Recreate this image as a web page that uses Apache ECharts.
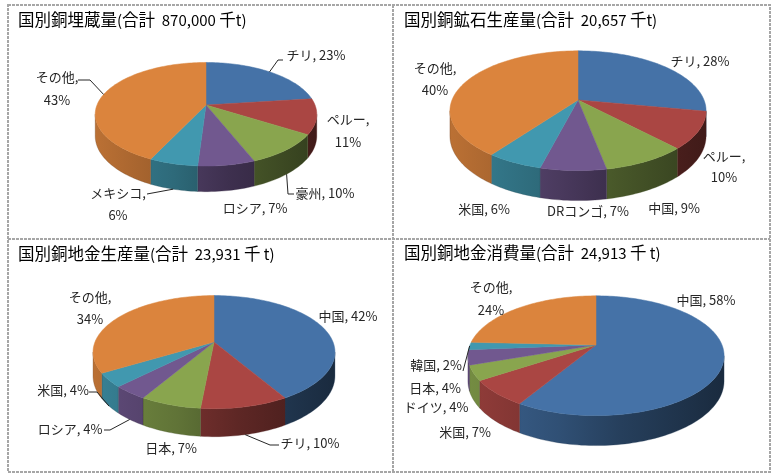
<!DOCTYPE html>
<html>
<head>
<meta charset="utf-8">
<script src="https://cdn.jsdelivr.net/npm/echarts@6/dist/echarts.min.js"></script>
<style>
html,body{margin:0;padding:0;background:#fff;}
#main{width:782px;height:475px;}
</style>
</head>
<body>
<div id="main"></div>
<script>
// data (percent shares)
var titles = [
	'国別銅埋蔵量(合計  870,000 千t)',
	'国別銅鉱石生産量(合計  20,657 千t)',
	'国別銅地金生産量(合計  23,931 千 t)',
	'国別銅地金消費量(合計  24,913 千 t)'
];
var reserveNames = ['チリ', 'ペルー', '豪州', 'ロシア', 'メキシコ', 'その他'];
var reserveValues = [23, 11, 10, 7, 6, 43];
var mineNames = ['チリ', 'ペルー', '中国', 'DRコンゴ', '米国', 'その他'];
var mineValues = [28, 10, 9, 7, 6, 40];
var refinedNames = ['中国', 'チリ', '日本', 'ロシア', '米国', 'その他'];
var refinedValues = [42, 10, 7, 4, 4, 34];
var consumeNames = ['中国', '米国', 'ドイツ', '日本', '韓国', 'その他'];
var consumeValues = [58, 7, 4, 4, 2, 24];

var colors = ['#4572A7', '#AA4643', '#89A54E', '#71588F', '#4198AF', '#DB843D'];
var FONT = '"Noto Sans CJK JP", "Noto Sans", sans-serif';

// pie placement and label placement per panel
var layouts = [
	{cx: 206, cy: 105, r: 109, h: 21, tx: 18, ty: 20, labels: [
		{x: 316, y: 55, line: [[283, 60], [278, 60]]},
		{x: 348, y: 131, wrap: true, lh: 23},
		{x: 325, y: 193, line: [[294, 194], [288, 194]]},
		{x: 255, y: 208},
		{x: 118, y: 204, wrap: true, lh: 22, line: [[147, 194]]},
		{x: 57, y: 88.5, wrap: true, lh: 23, line: [[78, 80], [90, 80]]}
	]},
	{cx: 578, cy: 100, r: 126, h: 24.6, tx: 404, ty: 20, labels: [
		{x: 700, y: 61},
		{x: 724, y: 167, wrap: true, lh: 21},
		{x: 674, y: 208},
		{x: 588, y: 211},
		{x: 484, y: 209},
		{x: 435, y: 79, wrap: true, lh: 22}
	]},
	{cx: 214, cy: 342, r: 119, h: 23, tx: 18, ty: 254, labels: [
		{x: 348, y: 316},
		{x: 310, y: 443, line: [[279, 445], [270, 445]]},
		{x: 171, y: 448},
		{x: 70, y: 429, line: [[104, 430], [110, 430]]},
		{x: 63, y: 390, line: [[89, 392], [97, 392]]},
		{x: 90, y: 308, wrap: true, lh: 22}
	]},
	{cx: 596, cy: 345, r: 126, h: 24.6, tx: 404, ty: 253, labels: [
		{x: 706, y: 300},
		{x: 465, y: 432},
		{x: 436, y: 407},
		{x: 435, y: 388},
		{x: 436, y: 365, line: [[463, 371]]},
		{x: 491, y: 298.5, wrap: true, lh: 23}
	]}
];

var P = 0.179, A = 0.46; // perspective strength, tilt
var WALL0 = Math.acos(-P), WALL1 = 2 * Math.PI - Math.acos(-P);

function proj(L, t, drop) {
	var u = Math.sin(t), v = -Math.cos(t);
	var s = 1 / (1 - P * v);
	return [L.cx + L.r * u * s, L.cy + (L.r * A * v + drop) * s];
}
function shade(hex, f) {
	var n = parseInt(hex.slice(1), 16);
	var r = Math.round(((n >> 16) & 255) * f), g = Math.round(((n >> 8) & 255) * f), b = Math.round((n & 255) * f);
	return 'rgb(' + r + ',' + g + ',' + b + ')';
}
// wide glyphs a bit larger than the latin part, like the original title font
function richTitle(s) {
	return s.replace(/([\u3000-\u9fff\uff00-\uffef]+)|([^\u3000-\u9fff\uff00-\uffef]+)/g, function(m, w, n) {
		return w ? '{w|' + w + '}' : '{n|' + n + '}';
	});
}

function makeRender(names, values, L) {
	var total = 0, starts = [];
	for (var i = 0; i < values.length; i++) { starts.push(total); total += values[i]; }
	return function(params, api) {
		var i = params.dataIndex;
		var a0 = starts[i] / total * Math.PI * 2;
		var a1 = a0 + api.value(0) / total * Math.PI * 2;
		var col = colors[i];
		var children = [];
		var step = Math.PI / 120, k;

		// top face
		var top = [[L.cx, L.cy]];
		var n = Math.max(2, Math.ceil((a1 - a0) / step));
		for (k = 0; k <= n; k++) top.push(proj(L, a0 + (a1 - a0) * k / n, 0));
		children.push({type: 'polygon', z2: 2, shape: {points: top},
			style: {fill: col, stroke: col, lineWidth: 0.5}});

		// front wall
		var b0 = Math.max(a0, WALL0), b1 = Math.min(a1, WALL1);
		if (b1 > b0) {
			var wall = [];
			var m = Math.max(2, Math.ceil((b1 - b0) / step));
			for (k = 0; k <= m; k++) wall.push(proj(L, b0 + (b1 - b0) * k / m, 0));
			for (k = m; k >= 0; k--) wall.push(proj(L, b0 + (b1 - b0) * k / m, L.h));
			children.push({type: 'polygon', z2: 1, shape: {points: wall},
				style: {fill: {type: 'linear', global: true, x: L.cx - L.r, y: 0, x2: L.cx + L.r, y2: 0,
					colorStops: [
						{offset: 0, color: shade(col, 0.85)},
						{offset: 0.35, color: shade(col, 0.70)},
						{offset: 0.6, color: shade(col, 0.55)},
						{offset: 1, color: shade(col, 0.38)}
					]}, stroke: shade(col, 0.5), lineWidth: 0.3}});
		}

		// label
		var lb = L.labels[i];
		var txt = names[i] + (lb.wrap ? ',\n' : ', ') + api.value(0) + '%';
		children.push({type: 'text', z2: 5, x: lb.x, y: lb.y, style: {
			text: txt, fill: '#262626', fontSize: 13, fontFamily: FONT,
			align: 'center', verticalAlign: 'middle', lineHeight: lb.lh || 16}});
		if (lb.line) {
			var mid = (a0 + a1) / 2;
			var end = (mid > WALL0 && mid < WALL1) ? proj(L, mid, L.h) : proj(L, mid, 0);
			children.push({type: 'polyline', z2: 4, shape: {points: lb.line.concat([end])},
				style: {stroke: '#262626', lineWidth: 1, fill: null}});
		}
		return {type: 'group', children: children};
	};
}

var sets = [
	[reserveNames, reserveValues],
	[mineNames, mineValues],
	[refinedNames, refinedValues],
	[consumeNames, consumeValues]
];

var series = sets.map(function(s, i) {
	return {
		type: 'custom',
		coordinateSystem: 'none',
		silent: true,
		animation: false,
		renderItem: makeRender(s[0], s[1], layouts[i]),
		data: s[1]
	};
});

var dash = {stroke: '#A6A6A6', lineWidth: 2, lineDash: [3, 1], fill: null};
var graphic = [
	{type: 'rect', shape: {x: 8, y: 5, width: 762, height: 467}, style: dash, silent: true},
	{type: 'line', shape: {x1: 393, y1: 5, x2: 393, y2: 472}, style: dash, silent: true},
	{type: 'line', shape: {x1: 8, y1: 239, x2: 770, y2: 239}, style: dash, silent: true}
];
layouts.forEach(function(L, i) {
	graphic.push({type: 'text', x: L.tx, y: L.ty, silent: true, style: {
		text: richTitle(titles[i]), fill: '#000', fontFamily: FONT,
		align: 'left', verticalAlign: 'middle',
		rich: {
			w: {fontSize: 16.5, fontFamily: FONT, fill: '#000'},
			n: {fontSize: 15, fontFamily: FONT, fill: '#000'}
		}}});
});

var chart = echarts.init(document.getElementById('main'));
chart.setOption({
	animation: false,
	backgroundColor: '#fff',
	graphic: graphic,
	series: series
});
</script>
</body>
</html>
